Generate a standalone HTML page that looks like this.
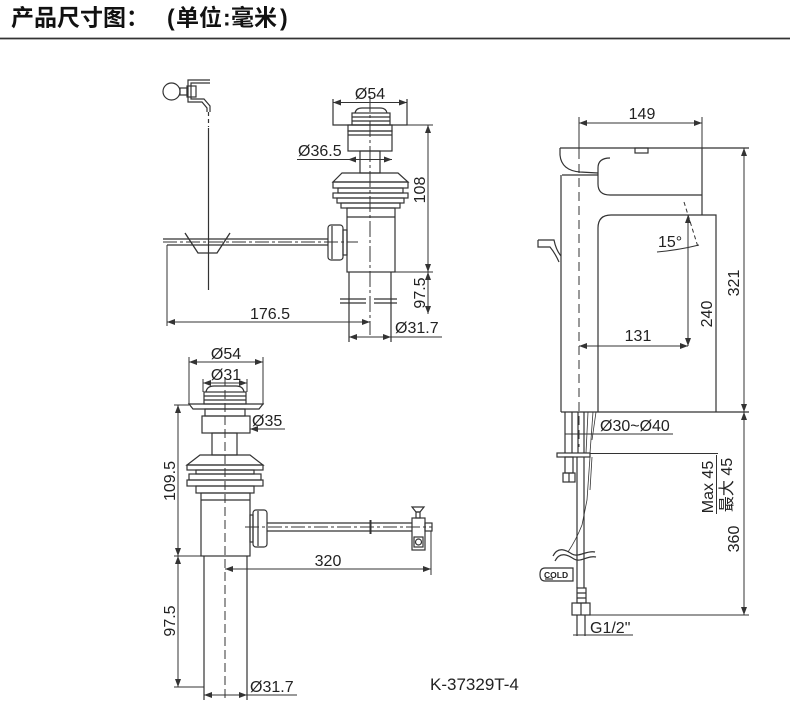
<!DOCTYPE html>
<html><head><meta charset="utf-8"><style>
html,body{margin:0;padding:0;background:#fff;}
svg{display:block;}
text{font-family:"Liberation Sans","Noto Sans CJK SC",sans-serif;fill:#222;}
</style></head><body>
<svg width="790" height="709" viewBox="0 0 790 709" xmlns="http://www.w3.org/2000/svg">
<defs>
<marker id="a" viewBox="0 0 8 6" refX="8" refY="3" markerWidth="8" markerHeight="6" markerUnits="userSpaceOnUse" orient="auto-start-reverse"><path d="M0,0L8,3L0,6z" fill="#333"/></marker>
</defs>

<!-- Header -->
<g font-weight="bold" fill="#111">
<text x="11" y="25.5" font-size="23" style="font-family:'Noto Sans CJK SC',sans-serif;fill:#111">产品尺寸图：</text>
<text x="167" y="25.5" font-size="23" style="fill:#111">(</text>
<text x="176" y="25.5" font-size="23" style="font-family:'Noto Sans CJK SC',sans-serif;fill:#111">单位</text>
<text x="223" y="25.5" font-size="23" style="fill:#111">:</text>
<text x="231" y="25.5" font-size="23" style="font-family:'Noto Sans CJK SC',sans-serif;fill:#111">毫米</text>
<text x="280" y="25.5" font-size="23" style="fill:#111">)</text>
</g>
<line x1="0" y1="38.5" x2="790" y2="38.5" stroke="#333" stroke-width="1.8"/>

<g stroke="#333" fill="none" stroke-width="1.2">
<!-- ===== Top-left drain ===== -->
<circle cx="171.5" cy="91.5" r="8.5"/>
<rect x="180" y="88" width="7" height="7"/>
<rect x="187" y="86" width="9" height="11"/>
<path d="M210,80 H188 V102 H202 L207,108 V112"/>
<path d="M210,83 H191 V99 H204 L210,106 V112"/>
<line x1="208.5" y1="112" x2="208.5" y2="127" stroke-dasharray="4,3"/>
<line x1="208.5" y1="128" x2="208.5" y2="290"/>
<line x1="163" y1="239" x2="328" y2="239"/>
<line x1="167" y1="245" x2="328" y2="245"/>
<line x1="163" y1="242" x2="358" y2="242" stroke-dasharray="14,3,3,3" stroke-width="1"/>
<polyline points="185,233 198,253 217,253 230,233" stroke-width="1.3"/>
<rect x="328" y="225" width="15" height="35" rx="3"/>
<line x1="332" y1="226" x2="332" y2="259"/>
<rect x="343" y="230" width="4" height="25"/>
<!-- cap -->
<path d="M333,99 V125 H407 V99"/>
<path d="M355,113 Q356,108 362,108 H380 Q386,108 387,113"/>
<rect x="352" y="113" width="38" height="12"/>
<line x1="352" y1="117" x2="390" y2="117"/>
<line x1="352" y1="121" x2="390" y2="121"/>
<rect x="348" y="125" width="44" height="6"/>
<rect x="348" y="131" width="44" height="20"/>
<line x1="348" y1="135" x2="392" y2="135"/>
<rect x="360" y="151" width="20" height="22"/>
<path d="M342,173 H398 L408,182 H333 Z"/>
<rect x="333" y="182" width="75" height="6"/>
<rect x="338" y="188" width="65" height="5"/>
<rect x="333" y="193" width="75" height="5"/>
<rect x="337" y="198" width="67" height="5"/>
<rect x="341" y="203" width="59" height="5"/>
<rect x="347" y="208" width="48" height="64"/>
<line x1="347" y1="217" x2="395" y2="217"/>
<line x1="349" y1="272" x2="349" y2="342"/>
<line x1="391" y1="272" x2="391" y2="342"/>
<path d="M340,299 H366 M374,299 H397 M340,303 H366 M374,303 H397"/>
<line x1="370" y1="96" x2="370" y2="335" stroke-dasharray="16,3,3,3" stroke-width="1"/>
<!-- dims -->
<line x1="333" y1="102.5" x2="407" y2="102.5" marker-start="url(#a)" marker-end="url(#a)" stroke-width="1"/>
<line x1="297" y1="159.5" x2="348" y2="159.5" stroke-width="1"/>
<line x1="348" y1="159.5" x2="392" y2="159.5" marker-start="url(#a)" marker-end="url(#a)" stroke-width="1"/>
<path d="M407,125 H433 M395,272 H433" stroke-width="1"/>
<line x1="428" y1="125" x2="428" y2="272" marker-start="url(#a)" marker-end="url(#a)" stroke-width="1"/>
<line x1="428" y1="272" x2="428" y2="314" marker-start="url(#a)" marker-end="url(#a)" stroke-width="1"/>
<line x1="349" y1="337" x2="391" y2="337" marker-start="url(#a)" marker-end="url(#a)" stroke-width="1"/>
<line x1="391" y1="337" x2="442" y2="337" stroke-width="1"/>
<line x1="167" y1="245" x2="167" y2="326" stroke-width="1"/>
<line x1="167" y1="322" x2="370" y2="322" marker-start="url(#a)" marker-end="url(#a)" stroke-width="1"/>

<!-- ===== Bottom-left drain ===== -->
<path d="M189,357 V405 M263,357 V405" stroke-width="1"/>
<line x1="189" y1="362" x2="263" y2="362" marker-start="url(#a)" marker-end="url(#a)" stroke-width="1"/>
<path d="M203,379 V392 M247,379 V392" stroke-width="1"/>
<line x1="203" y1="383" x2="247" y2="383" marker-start="url(#a)" marker-end="url(#a)" stroke-width="1"/>
<path d="M206,392 Q207,386 214,386 H236 Q243,386 244,392"/>
<rect x="204" y="392" width="42" height="12"/>
<line x1="204" y1="396" x2="246" y2="396"/>
<line x1="204" y1="400" x2="246" y2="400"/>
<path d="M189,404 H263 L259,409 H193 Z"/>
<rect x="205" y="409" width="40" height="7"/>
<rect x="202" y="416" width="48" height="17"/>
<line x1="250" y1="429" x2="285" y2="429" marker-start="url(#a)" stroke-width="1"/>
<rect x="212" y="433" width="25" height="22"/>
<path d="M200,455 H250 L263,465 H187 Z"/>
<rect x="187" y="465" width="76" height="5"/>
<rect x="196" y="470" width="58" height="4"/>
<rect x="189" y="474" width="72" height="6"/>
<rect x="187" y="480" width="76" height="6"/>
<rect x="196" y="486" width="58" height="7"/>
<rect x="201" y="493" width="49" height="63"/>
<line x1="201" y1="500" x2="250" y2="500"/>
<line x1="204" y1="556" x2="204" y2="700"/>
<line x1="247" y1="556" x2="247" y2="700"/>
<line x1="225" y1="377" x2="225" y2="700" stroke-dasharray="9,4" stroke-width="1"/>
<!-- outlet -->
<rect x="250" y="515" width="3" height="27"/>
<rect x="253" y="510" width="14" height="37" rx="3"/>
<line x1="258" y1="511" x2="258" y2="546"/>
<line x1="267" y1="523" x2="412" y2="523"/>
<line x1="267" y1="531" x2="412" y2="531"/>
<line x1="370.5" y1="520" x2="370.5" y2="534" stroke-width="2"/>
<line x1="245" y1="527" x2="432" y2="527" stroke-dasharray="14,3,3,3" stroke-width="1"/>
<rect x="412" y="518" width="13" height="32"/>
<rect x="414" y="537" width="9" height="10"/>
<circle cx="418.5" cy="542" r="3"/>
<path d="M412,507 H424 L420,512 H416 Z"/>
<rect x="416" y="512" width="4" height="6"/>
<rect x="425" y="523" width="7" height="8"/>
<line x1="431" y1="531" x2="431" y2="575" stroke-width="1"/>
<line x1="225" y1="569" x2="431" y2="569" marker-start="url(#a)" marker-end="url(#a)" stroke-width="1"/>
<path d="M174,405 H189 M174,556 H201 M174,687 H204" stroke-width="1"/>
<line x1="178" y1="405" x2="178" y2="556" marker-start="url(#a)" marker-end="url(#a)" stroke-width="1"/>
<line x1="178" y1="556" x2="178" y2="687" marker-start="url(#a)" marker-end="url(#a)" stroke-width="1"/>
<line x1="204" y1="695" x2="247" y2="695" marker-start="url(#a)" marker-end="url(#a)" stroke-width="1"/>
<line x1="247" y1="695" x2="297" y2="695" stroke-width="1"/>

<!-- ===== Faucet ===== -->
<path d="M579,117 V150 M702,117 V148" stroke-width="1"/>
<line x1="579" y1="123" x2="702" y2="123" marker-start="url(#a)" marker-end="url(#a)" stroke-width="1"/>
<line x1="560" y1="148" x2="749" y2="148"/>
<rect x="635" y="148" width="13" height="5"/>
<path d="M560,148 V155 C561,166 568,171 580,172 L598,173"/>
<line x1="562" y1="175" x2="598" y2="175"/>
<line x1="561" y1="175" x2="561" y2="412"/>
<path d="M610,158 Q598,158 598,168 V184 Q598,195 610,195 H702"/>
<line x1="702" y1="148" x2="702" y2="215"/>
<path d="M598,412 V228 Q598,215 611,215 H716 V412"/>
<line x1="561" y1="412" x2="749" y2="412"/>
<line x1="579" y1="150" x2="579" y2="447" stroke-dasharray="9,5" stroke-width="1"/>
<path d="M538,240 H554 Q556,250 561,256 M538,240 V247 H550 Q555,253 559,262"/>
<line x1="684" y1="202" x2="698" y2="247" stroke-dasharray="4,3" stroke-width="1"/>
<path d="M657,252 Q679,250 699,245" stroke-width="1"/>
<line x1="688" y1="215" x2="688" y2="346" marker-start="url(#a)" marker-end="url(#a)" stroke-width="1"/>
<line x1="579" y1="346" x2="688" y2="346" marker-start="url(#a)" marker-end="url(#a)" stroke-width="1"/>
<line x1="744" y1="148" x2="744" y2="412" marker-start="url(#a)" marker-end="url(#a)" stroke-width="1"/>
<!-- shank -->
<path d="M565,412 V453 M572,412 V453 M578,412 V453 M584,412 V453"/>
<path d="M588,412 L586,453 M593,412 L590,453 M596,412 L592,440" stroke-width="0.8"/>
<line x1="565" y1="434" x2="673" y2="434" stroke-width="1"/>
<rect x="557" y="453" width="33" height="4"/>
<line x1="590" y1="453.5" x2="718" y2="453.5" stroke-width="1"/>
<line x1="716.5" y1="455" x2="716.5" y2="514" stroke-width="1"/>
<line x1="744" y1="412" x2="744" y2="615" marker-start="url(#a)" marker-end="url(#a)" stroke-width="1"/>
<line x1="590" y1="615" x2="749" y2="615" stroke-width="1"/>
<rect x="565" y="457" width="8" height="16"/>
<rect x="563" y="473" width="12" height="9"/>
<line x1="569" y1="473" x2="569" y2="482"/>
<path d="M577,457 V588 M584,457 V588"/>
<path d="M590,457 L587,500 L582,525 Q576,540 568,552 M592,457 L590,490" stroke-width="0.8"/>
<path d="M553,556 C558,546 566,550 572,554 S587,550 595,552"/>
<path d="M555,561 C560,551 568,555 574,559 S588,555 596,557"/>
<path d="M545,568 H573 V581 H545 Q540,581 540,574.5 Q540,568 545,568 Z"/>
<line x1="545" y1="579" x2="553" y2="579"/>
<rect x="577" y="588" width="9" height="15"/>
<path d="M577,593 H586 M577,598 H586"/>
<rect x="572" y="603" width="18" height="12"/>
<line x1="581" y1="603" x2="581" y2="615"/>
<path d="M577,615 V636 M585,615 V636"/>
<line x1="573" y1="635" x2="633" y2="635" stroke-width="1"/>
</g>

<!-- Labels -->
<g font-size="16">
<text x="370" y="99" text-anchor="middle">Ø54</text>
<text x="298" y="156">Ø36.5</text>
<text transform="translate(425,190) rotate(-90)" text-anchor="middle">108</text>
<text transform="translate(425,293) rotate(-90)" text-anchor="middle">97.5</text>
<text x="395" y="333">Ø31.7</text>
<text x="270" y="319" text-anchor="middle">176.5</text>

<text x="226" y="359" text-anchor="middle">Ø54</text>
<text x="226" y="380" text-anchor="middle">Ø31</text>
<text x="252" y="426">Ø35</text>
<text transform="translate(175,481) rotate(-90)" text-anchor="middle">109.5</text>
<text transform="translate(175,621) rotate(-90)" text-anchor="middle">97.5</text>
<text x="328" y="566" text-anchor="middle">320</text>
<text x="250" y="692">Ø31.7</text>

<text x="642" y="119" text-anchor="middle">149</text>
<text x="658" y="247">15°</text>
<text transform="translate(712,314) rotate(-90)" text-anchor="middle">240</text>
<text x="638" y="341" text-anchor="middle">131</text>
<text transform="translate(739,283) rotate(-90)" text-anchor="middle">321</text>
<text x="600" y="431">Ø30~Ø40</text>
<text transform="translate(713,487) rotate(-90)" text-anchor="middle">Max 45</text>
<text transform="translate(732,485) rotate(-90)" text-anchor="middle" style="font-family:'Liberation Sans','Noto Sans CJK SC',sans-serif">最大 45</text>
<text transform="translate(739,539) rotate(-90)" text-anchor="middle">360</text>
<text x="590" y="633">G1/2"</text>
</g>
<text x="544" y="578" font-size="8.5" font-weight="bold">COLD</text>
<text x="430" y="690" font-size="17">K-37329T-4</text>
</svg>
</body></html>
